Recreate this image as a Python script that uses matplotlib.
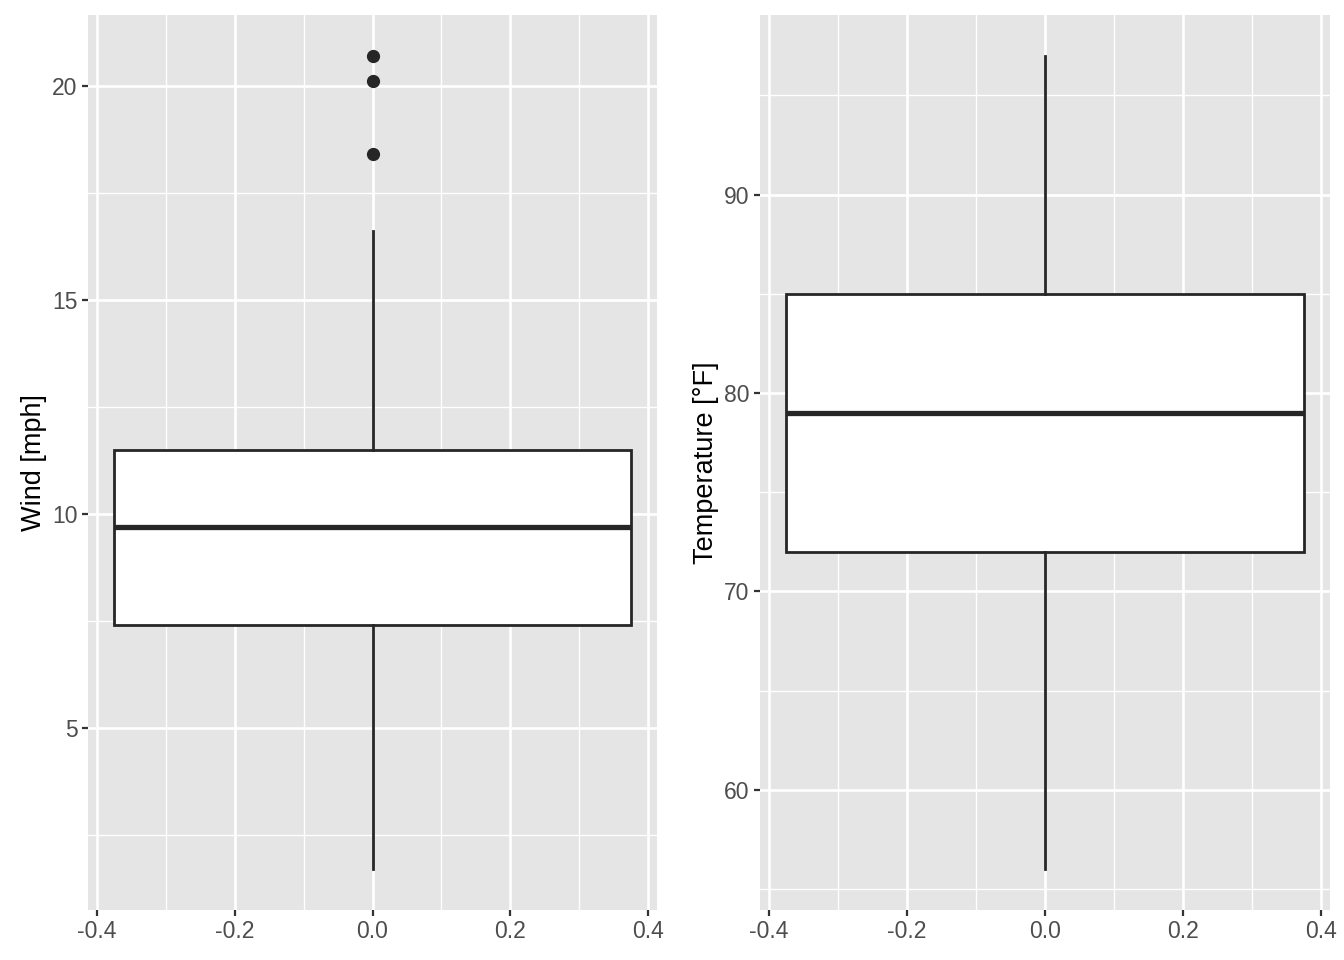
import numpy as np
import matplotlib.pyplot as plt

plt.rcParams['font.family'] = ['Liberation Sans', 'DejaVu Sans']

# airquality summary stats
wind_stats = dict(whislo=1.7, q1=7.4, med=9.7, q3=11.5, whishi=16.6,
                  fliers=[20.1, 18.4, 20.7])
temp_stats = dict(whislo=56, q1=72, med=79, q3=85, whishi=97, fliers=[])

wind_yticks = [5, 10, 15, 20]
temp_yticks = [60, 70, 80, 90]
xticks = [-0.4, -0.2, 0.0, 0.2, 0.4]
xtick_labels = ["-0.4", "-0.2", "0.0", "0.2", "0.4"]

bg = "#E5E5E5"
ink = "#262626"
lw_major = 1.9
lw_minor = 0.95
box_lw = 2.0


def draw(ax, stats, yticks, ylabel, lo, hi):
    ax.bxp([dict(stats)], positions=[0], widths=0.75, showcaps=False,
           patch_artist=True, manage_ticks=False,
           boxprops=dict(facecolor="white", edgecolor=ink, lw=box_lw),
           whiskerprops=dict(color=ink, lw=box_lw),
           medianprops=dict(color=ink, lw=3.8),
           flierprops=dict(marker="o", markerfacecolor=ink,
                           markeredgecolor=ink, markersize=8.5),
           zorder=3)

    ax.set_facecolor(bg)
    for s in ax.spines.values():
        s.set_visible(False)
    ax.set_xticks(xticks)
    ax.set_xticklabels(xtick_labels)
    ax.set_yticks(yticks)
    ax.set_yticklabels([str(t) for t in yticks])
    step = yticks[1] - yticks[0]
    minor_y = [yticks[0] - step / 2] + [t + step / 2 for t in yticks]
    ax.set_yticks(minor_y, minor=True)
    ax.set_xticks([-0.3, -0.1, 0.1, 0.3], minor=True)
    rng = hi - lo
    ax.set_ylim(lo - 0.05 * rng, hi + 0.05 * rng)
    ax.set_xlim(-0.4125, 0.4125)
    ax.grid(True, which="major", color="white", lw=lw_major, zorder=0)
    ax.grid(True, which="minor", color="white", lw=lw_minor, zorder=0)
    ax.set_axisbelow(True)
    ax.tick_params(which="major", length=4.5, width=1.6, color="#333333",
                   labelcolor="#4D4D4D", labelsize=16.5, pad=3)
    ax.tick_params(which="minor", length=0)
    ax.set_ylabel(ylabel, fontsize=19.5, color="black", labelpad=4)


fig = plt.figure(figsize=(13.44, 9.6), dpi=100)
ax1 = fig.add_axes([88 / 1344, 1 - 910 / 960, (657 - 88) / 1344, (910 - 15) / 960])
ax2 = fig.add_axes([760 / 1344, 1 - 910 / 960, (1330 - 760) / 1344, (910 - 15) / 960])

draw(ax1, wind_stats, wind_yticks, "Wind [mph]", 1.7, 20.7)
draw(ax2, temp_stats, temp_yticks, "Temperature [°F]", 56, 97)

fig.savefig("out.png", dpi=100)
